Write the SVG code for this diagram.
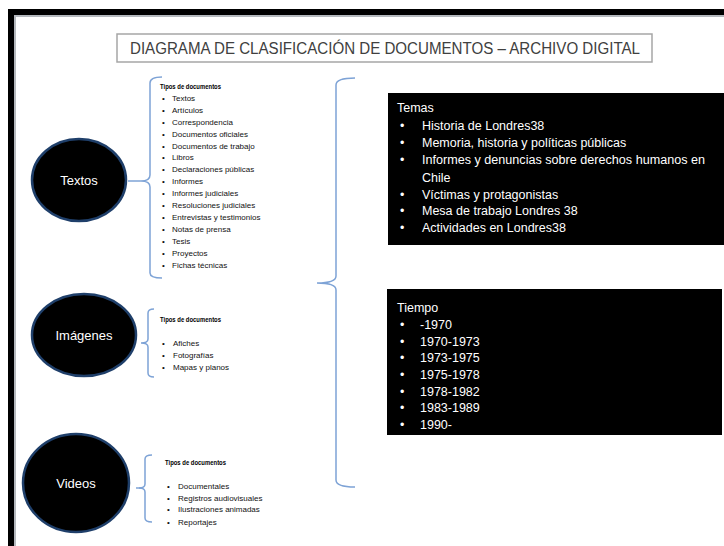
<svg xmlns="http://www.w3.org/2000/svg" width="724" height="546" viewBox="0 0 724 546">
<style>
  .t{font-family:"Liberation Sans",Arial,sans-serif}
  .sm{font-family:"Liberation Sans",Arial,sans-serif;font-size:8px;fill:#111}
  .smb{font-family:"Liberation Sans",Arial,sans-serif;font-size:7.5px;font-weight:bold;fill:#000}
  .wt{font-family:"Liberation Sans",Arial,sans-serif;font-size:12.5px;fill:#fff}
  .node{fill:#000;stroke:#1f3f6a;stroke-width:2.5}
  .brace{fill:none;stroke:#7ea3d6;stroke-width:1.5}
  .conn{stroke:#7ea3d6;stroke-width:1.5}
</style>
<rect width="724" height="546" fill="#fff"/>
<!-- frame -->
<rect x="8" y="9" width="716" height="6" fill="#000"/>
<rect x="8" y="9" width="6" height="537" fill="#000"/>
<rect x="14" y="15" width="710" height="2" fill="#b4b8bd"/>
<rect x="14" y="15" width="2" height="531" fill="#b4b8bd"/>

<g id="title">
  <rect x="117" y="34" width="535" height="28" fill="#fff" stroke="#a6a6a6" stroke-width="1.5"/>
  <text class="t" x="385" y="54" text-anchor="middle" font-size="16" fill="#404040" textLength="510" lengthAdjust="spacingAndGlyphs">DIAGRAMA DE CLASIFICACIÓN DE DOCUMENTOS – ARCHIVO DIGITAL</text>
</g>

<g id="node-textos">
  <ellipse class="node" cx="79" cy="180" rx="47" ry="41"/>
  <text class="t" x="79" y="185" text-anchor="middle" font-size="13" fill="#fff">Textos</text>
</g>
<g id="node-imagenes">
  <ellipse class="node" cx="84" cy="335" rx="52" ry="41"/>
  <text class="t" x="84" y="340" text-anchor="middle" font-size="13" fill="#fff">Imágenes</text>
</g>
<g id="node-videos">
  <ellipse class="node" cx="76" cy="483" rx="53" ry="49"/>
  <text class="t" x="76" y="488" text-anchor="middle" font-size="13" fill="#fff">Videos</text>
</g>

<g id="connectors">
  <line class="conn" x1="128" y1="181" x2="141" y2="181"/>
  <line class="conn" x1="136" y1="488" x2="141" y2="488"/>
  <path class="brace" d="M162,77 Q150,77 150,83 L150,175 Q150,181 141,181 Q150,181 150,187 L150,273 Q150,278 162,278"/>
  <path class="brace" d="M154,309 Q148,309 148,313 L148,339 Q148,343 141,343 Q148,343 148,347 L148,373 Q148,377 154,377"/>
  <path class="brace" d="M152,455 Q145,455 145,459 L145,484 Q145,488 139,488 Q145,488 145,492 L145,518 Q145,522 152,522"/>
  <path class="brace" d="M355,78 Q336,78 336,85 L336,276 Q336,283 317,283 Q336,283 336,290 L336,480 Q336,487 355,487"/>
</g>

<g id="list-textos">
  <text class="smb" x="160" y="89" textLength="61" lengthAdjust="spacingAndGlyphs">Tipos  de documentos</text>
  <g class="sm">
    <text x="162" y="101">•</text><text x="172" y="101">Textos</text>
    <text x="162" y="113">•</text><text x="172" y="113">Artículos</text>
    <text x="162" y="125">•</text><text x="172" y="125">Correspondencia</text>
    <text x="162" y="137">•</text><text x="172" y="137">Documentos   oficiales</text>
    <text x="162" y="149">•</text><text x="172" y="149">Documentos   de trabajo</text>
    <text x="162" y="160">•</text><text x="172" y="160">Libros</text>
    <text x="162" y="172">•</text><text x="172" y="172">Declaraciones  públicas</text>
    <text x="162" y="184">•</text><text x="172" y="184">Informes</text>
    <text x="162" y="196">•</text><text x="172" y="196">Informes  judiciales</text>
    <text x="162" y="208">•</text><text x="172" y="208">Resoluciones  judiciales</text>
    <text x="162" y="220">•</text><text x="172" y="220">Entrevistas y testimonios</text>
    <text x="162" y="232">•</text><text x="172" y="232">Notas de prensa</text>
    <text x="162" y="244">•</text><text x="172" y="244">Tesis</text>
    <text x="162" y="256">•</text><text x="172" y="256">Proyectos</text>
    <text x="162" y="268">•</text><text x="172" y="268">Fichas técnicas</text>
  </g>
</g>

<g id="list-imagenes">
  <text class="smb" x="160" y="322" textLength="61" lengthAdjust="spacingAndGlyphs">Tipos  de documentos</text>
  <g class="sm">
    <text x="162" y="346">•</text><text x="173" y="346">Afiches</text>
    <text x="162" y="358">•</text><text x="173" y="358">Fotografías</text>
    <text x="162" y="370">•</text><text x="173" y="370">Mapas y planos</text>
  </g>
</g>

<g id="list-videos">
  <text class="smb" x="165" y="465" textLength="61" lengthAdjust="spacingAndGlyphs">Tipos  de documentos</text>
  <g class="sm">
    <text x="167" y="489">•</text><text x="178" y="489">Documentales</text>
    <text x="167" y="501">•</text><text x="178" y="501">Registros audiovisuales</text>
    <text x="167" y="512">•</text><text x="178" y="512">Ilustraciones  animadas</text>
    <text x="167" y="525">•</text><text x="178" y="525">Reportajes</text>
  </g>
</g>

<g id="box-temas">
  <rect x="388" y="93" width="336" height="152" fill="#000"/>
  <text class="wt" x="397" y="112">Temas</text>
  <text class="wt" x="400" y="130">•</text><text class="wt" x="422" y="130">Historia de Londres38</text>
  <text class="wt" x="400" y="147">•</text><text class="wt" x="422" y="147">Memoria, historia y políticas públicas</text>
  <text class="wt" x="400" y="164">•</text><text class="wt" x="422" y="164" textLength="283" lengthAdjust="spacingAndGlyphs">Informes y denuncias sobre derechos humanos en</text>
  <text class="wt" x="422" y="182">Chile</text>
  <text class="wt" x="400" y="199">•</text><text class="wt" x="422" y="199">Víctimas y protagonistas</text>
  <text class="wt" x="400" y="215">•</text><text class="wt" x="422" y="215">Mesa de trabajo Londres 38</text>
  <text class="wt" x="400" y="232">•</text><text class="wt" x="422" y="232">Actividades en Londres38</text>
</g>

<g id="box-tiempo">
  <rect x="387" y="289" width="335" height="146" fill="#000"/>
  <text class="wt" x="397" y="312">Tiempo</text>
  <text class="wt" x="400" y="329">•</text><text class="wt" x="420" y="329">-1970</text>
  <text class="wt" x="400" y="346">•</text><text class="wt" x="420" y="346">1970-1973</text>
  <text class="wt" x="400" y="362">•</text><text class="wt" x="420" y="362">1973-1975</text>
  <text class="wt" x="400" y="379">•</text><text class="wt" x="420" y="379">1975-1978</text>
  <text class="wt" x="400" y="396">•</text><text class="wt" x="420" y="396">1978-1982</text>
  <text class="wt" x="400" y="412">•</text><text class="wt" x="420" y="412">1983-1989</text>
  <text class="wt" x="400" y="429">•</text><text class="wt" x="420" y="429">1990-</text>
</g>
</svg>
